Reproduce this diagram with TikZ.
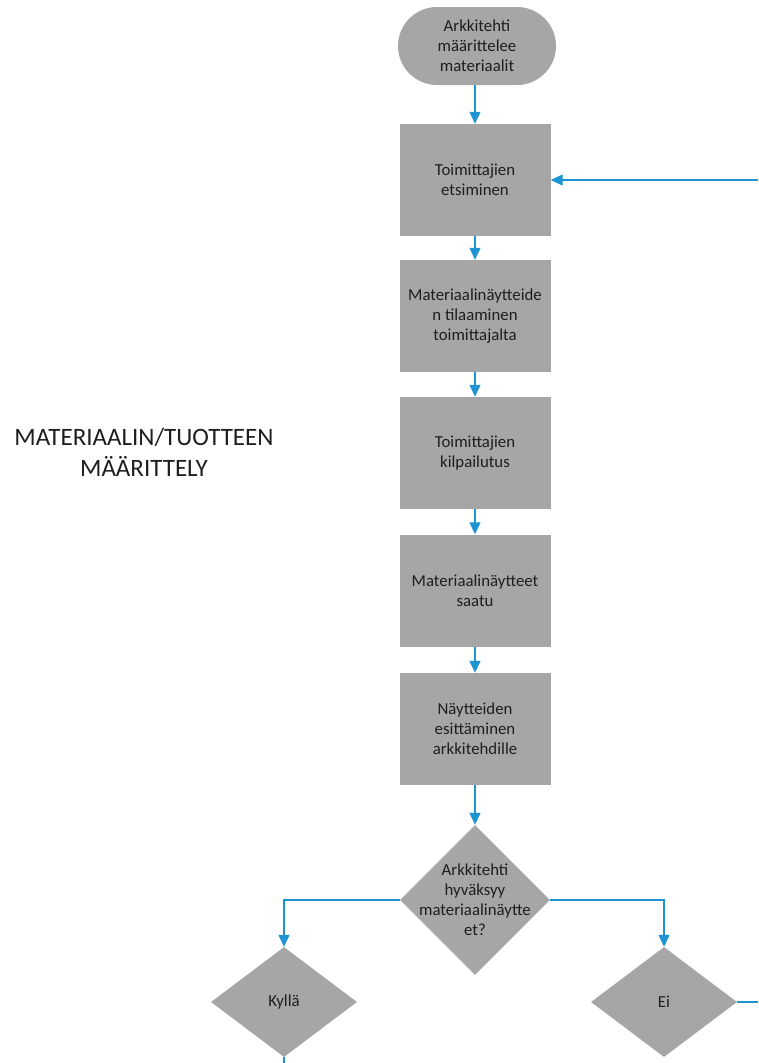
\documentclass[tikz,border=0pt]{standalone}
\usepackage{fontspec}
\setmainfont{Carlito}
\usetikzlibrary{shapes.geometric,arrows.meta}
\definecolor{boxgray}{RGB}{166,166,166}
\definecolor{flowblue}{RGB}{31,148,210}
\definecolor{inkgray}{RGB}{30,30,30}

\begin{document}
\begin{tikzpicture}[x=1pt,y=-1pt,
  boxtext/.style={align=center, text=inkgray, font=\fontsize{16.8}{20}\selectfont},
  stepbox/.style={rectangle, fill=boxgray, minimum width=151pt, minimum height=112pt, inner sep=0pt, boxtext},
  startbox/.style={rectangle, rounded corners=39pt, fill=boxgray, minimum width=158pt, minimum height=78pt, inner sep=0pt, boxtext},
  choice/.style={diamond, fill=boxgray, inner sep=0pt, aspect=1, boxtext},
  line/.style={draw=flowblue, line width=1.2pt},
  flow/.style={line, -{Triangle[width=11pt,length=12pt,fill=flowblue]}}
]
\useasboundingbox (0,0) rectangle (758,1063);

% heading on the left
\node[align=center, text=inkgray, font=\fontsize{25}{31}\selectfont] (title) at (144,452)
  {MATERIAALIN/TUOTTEEN\\MÄÄRITTELY};

% main column
\node[startbox] (start) at (477,46) {Arkkitehti\\määrittelee\\materiaalit};
\node[stepbox] (s1) at (475,180) {Toimittajien\\etsiminen};
\node[stepbox] (s2) at (475,316) {Materiaalinäytteide\\n tilaaminen\\toimittajalta};
\node[stepbox] (s3) at (475,453) {Toimittajien\\kilpailutus};
\node[stepbox] (s4) at (475,590.5) {Materiaalinäytteet\\saatu};
\node[stepbox] (s5) at (475,729) {Näytteiden\\esittäminen\\arkkitehdille};

% decision and its outcomes
\node[choice, minimum width=150pt, minimum height=150pt,
  label={[boxtext]center:{Arkkitehti\\hyväksyy\\materiaalinäytte\\et?}}] (q) at (475,900) {};
\node[choice, minimum width=146pt, minimum height=110pt] (yes) at (284,1002) {Kyllä};
\node[choice, minimum width=146pt, minimum height=110pt] (no) at (664,1002) {Ei};

% loose ends leaving the picture
\coordinate (back) at (758,180);
\coordinate (noexit) at (758,1002);
\coordinate (yesexit) at (284,1063);

% connectors
\draw[flow] (start.south -| s1.north) -- (s1.north);
\draw[flow] (s1) -- (s2);
\draw[flow] (s2) -- (s3);
\draw[flow] (s3) -- (s4);
\draw[flow] (s4) -- (s5);
\draw[flow] (s5) -- (q);
\draw[flow] (q.west) -| (yes.north);
\draw[flow] (q.east) -| (no.north);
\draw[flow] (back) -- (s1.east);
\draw[line] (no.east) -- (noexit);
\draw[line] (yes.south) -- (yesexit);
\end{tikzpicture}
\end{document}
